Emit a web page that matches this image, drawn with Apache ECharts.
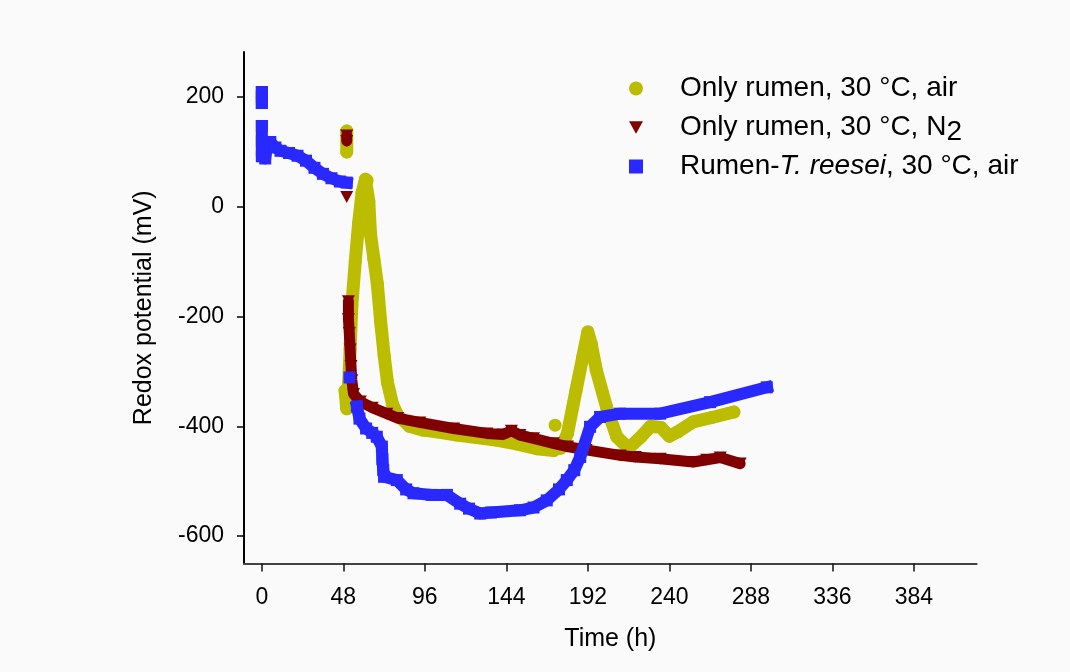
<!DOCTYPE html>
<html>
<head>
<meta charset="utf-8">
<script src="https://cdn.jsdelivr.net/npm/echarts@6/dist/echarts.min.js"></script>
<style>html,body{margin:0;padding:0;background:#fafafa;}#c{width:1070px;height:672px;}</style>
</head>
<body>
<div id="c"></div>
<script>
// ---- data (null = gap between separate marker groups) ----
const xTickValues = [0, 48, 96, 144, 192, 240, 288, 336, 384];
const yTickValues = [-600, -400, -200, 0, 200];

const airTime = [50, 50, null, 49, 50, 51, 52, 53, 55, 57, 59, 61, 62, 63, 64, 66, 68, 70, 72, 74, 77, 80, 87, 95, 103, 115, 123, 138, 150, 162, 172, null, 172.7, null, 176, 180, 185, 189, 192, 194, 197, 203, 209, 216, 223, 229, 235, 240, 245, 254, 265, 278];
const airValues = [138, 100, null, -335, -368, -330, -260, -180, -100, -30, 25, 50, 48, 10, -50, -95, -140, -210, -270, -320, -360, -380, -400, -407, -410, -416, -419, -425, -432, -441, -444, null, -398, null, -440, -413, -335, -274, -228, -250, -298, -365, -419, -440, -420, -400, -402, -418, -410, -392, -384, -374];

const n2Time = [50, 50, null, 50, null, 51, 51, 51.5, 52, 52.5, 53, 54, 58, 65, 73.6, 80, 93, 113, 132.5, 142, 147, 152, 160, 171.7, 180, 191, 211, 220, 234.6, 254, 262, 270, 281.7];
const n2Values = [130, 120, null, 18, null, -172, -205, -230, -260, -290, -316, -341, -355, -366, -377, -385, -393, -404, -413, -415, -408, -416, -422, -431, -437, -443, -453, -456, -459, -465, -461, -457, -468];

const reeseiTime = [0, 0, 0, null, 0, 0, 0, 2, 3, 5, 8, 11, 16, 21, 26, 31, 36, 41, 46, 50, null, 51.6, null, 56, 57.5, 61.4, 65, 67.7, 70.7, 71, 71.5, 72, 79.5, 85, 89.3, 100, 109, 116.8, 122, 128.6, 135, 152, 160, 167.8, 175, 179.6, 184, 187.5, 193.3, 199.2, 211, 234.6, 264, 297.4];
const reeseiValues = [209, 200, 189, null, 147, 120, 92, 88, 110, 118, 108, 102, 98, 93, 84, 71, 60, 52, 46, 44, null, -311, null, -364, -386, -404, -412, -419, -437, -460, -480, -492, -498, -515, -522, -525, -525, -541, -550, -559, -557, -553, -548, -535, -515, -498, -480, -456, -401, -383, -377, -377, -356, -329];

const legendLabels = {
  air: 'Only rumen, 30 °C, air',
  n2: 'Only rumen, 30 °C, N{sub|2}',
  reesei: 'Rumen-{i|T. reesei}, 30 °C, air'
};

function pairs(t, v) {
  return t.map((x, i) => (x === null || v[i] === null) ? [null, null] : [x, v[i]]);
}

const FONT = '"Liberation Sans", Arial, sans-serif';
const triDown = 'path://M0,0 L10,0 L5,9 Z';

const chart = echarts.init(document.getElementById('c'), null, {renderer: 'canvas'});
chart.setOption({
  backgroundColor: '#fafafa',
  animation: false,
  grid: {left: 244, top: 52, width: 732.7, height: 511.5, containLabel: false},
  xAxis: {
    type: 'value', min: -10.5, max: 421,
    name: 'Time (h)', nameLocation: 'middle', nameGap: 63,
    nameTextStyle: {fontSize: 25, fontFamily: FONT, color: '#000'},
    axisLine: {show: true, onZero: false, lineStyle: {color: '#444', width: 2}},
    axisTick: {show: true, inside: false, length: 8, customValues: xTickValues, lineStyle: {color: '#111', width: 1.5}},
    axisLabel: {customValues: xTickValues, margin: 23, fontSize: 23, fontFamily: FONT, color: '#000'},
    splitLine: {show: false}
  },
  yAxis: {
    type: 'value', min: -650, max: 282,
    name: 'Redox potential (mV)', nameLocation: 'middle', nameGap: 87, nameRotate: 90,
    nameTextStyle: {fontSize: 25, fontFamily: FONT, color: '#000'},
    axisLine: {show: true, onZero: false, lineStyle: {color: '#000', width: 2}},
    axisTick: {show: true, inside: false, length: 7, customValues: yTickValues, lineStyle: {color: '#000', width: 1.5}},
    axisLabel: {customValues: yTickValues, margin: 20, fontSize: 23, fontFamily: FONT, color: '#000'},
    splitLine: {show: false}
  },
  legend: {
    orient: 'vertical', left: 624, top: 68.5,
    itemWidth: 14, itemHeight: 14, itemGap: 5,
    selectedMode: false,
    formatter: (name) => legendLabels[name],
    textStyle: {
      fontSize: 28, fontFamily: FONT, color: '#000', lineHeight: 30, padding: [0, 0, 0, 32],
      rich: {
        sub: {fontSize: 28, fontFamily: FONT, color: '#000', lineHeight: 20, padding: [10, 0, 0, 0]},
        i: {fontSize: 28, fontFamily: FONT, color: '#000', fontStyle: 'italic', lineHeight: 30}
      }
    },
    data: [
      {name: 'air', icon: 'circle', itemStyle: {color: '#bcbc00'}},
      {name: 'n2', icon: triDown, itemStyle: {color: '#800000'}},
      {name: 'reesei', icon: 'rect', itemStyle: {color: '#2828ff'}}
    ]
  },
  series: [
    {
      name: 'air', type: 'line', data: pairs(airTime, airValues), connectNulls: false,
      symbol: 'circle', symbolSize: 13, showSymbol: true, showAllSymbol: true,
      itemStyle: {color: '#bcbc00'}, lineStyle: {color: '#bcbc00', width: 13, cap: 'round', join: 'round'},
      z: 2
    },
    {
      name: 'n2', type: 'line', data: pairs(n2Time, n2Values), connectNulls: false,
      symbol: triDown, symbolSize: [13, 12], showSymbol: true, showAllSymbol: true,
      itemStyle: {color: '#800000'}, lineStyle: {color: '#800000', width: 11, cap: 'round', join: 'round'},
      z: 3
    },
    {
      name: 'reesei', type: 'line', data: pairs(reeseiTime, reeseiValues), connectNulls: false,
      symbol: 'rect', symbolSize: 12, showSymbol: true, showAllSymbol: true,
      itemStyle: {color: '#2828ff'}, lineStyle: {color: '#2828ff', width: 12, cap: 'square', join: 'round'},
      z: 4
    }
  ]
});
</script>
</body>
</html>
